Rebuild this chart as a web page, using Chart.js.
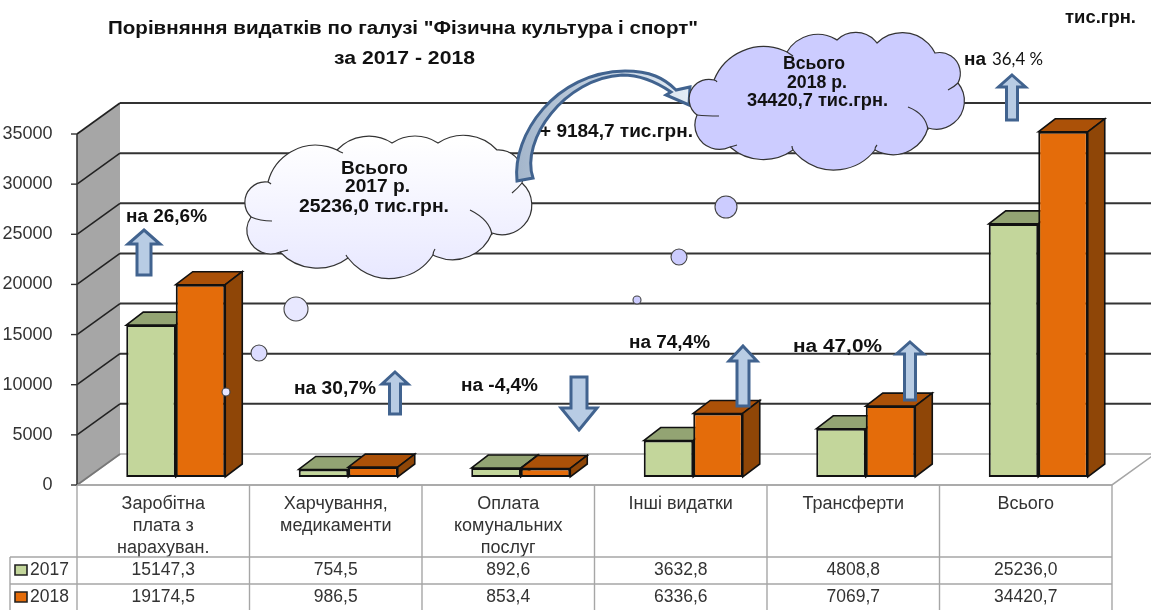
<!DOCTYPE html>
<html>
<head>
<meta charset="utf-8">
<style>
  html, body { margin: 0; padding: 0; background: #fff; }
  #box { width: 1151px; height: 610px; }
</style>
<script src="https://cdn.jsdelivr.net/npm/chart.js@4/dist/chart.umd.min.js"></script>
</head>
<body>
<div id="box"><canvas id="chart" width="1151" height="610"></canvas></div>
<script>
const categories = [
  ['Заробітна', 'плата з', 'нарахуван.'],
  ['Харчування,', 'медикаменти'],
  ['Оплата', 'комунальних', 'послуг'],
  'Інші видатки',
  'Трансферти',
  'Всього'
];
const values2017 = [15147.3, 754.5, 892.6, 3632.8, 4808.8, 25236.0];
const values2018 = [19174.5, 986.5, 853.4, 6336.6, 7069.7, 34420.7];
const seriesNames = ['2017', '2018'];
const yTicks = [0, 5000, 10000, 15000, 20000, 25000, 30000, 35000];

const FONT = '"Liberation Sans", Arial, sans-serif';
const INK = '#111';
const GREEN = ['#C3D69B', '#93A473', '#93A473'];
const ORANGE = ['#E46C0A', '#AB5108', '#8F4607'];
const faces = [GREEN, ORANGE];

// offsets of the fake 3d look
const barDx = 17, barDy = -13;   // bar depth
const frontDy = 8;               // front wall sits below the bar base
const backDx = 43, backDy = -31; // back wall from front wall

function poly(ctx, pts, fill, stroke, lw) {
  ctx.beginPath();
  pts.forEach((p, i) => i ? ctx.lineTo(p[0], p[1]) : ctx.moveTo(p[0], p[1]));
  ctx.closePath();
  if (fill) { ctx.fillStyle = fill; ctx.fill(); }
  if (stroke) { ctx.strokeStyle = stroke; ctx.lineWidth = lw || 1; ctx.stroke(); }
}

function line(ctx, x1, y1, x2, y2, color, lw) {
  ctx.beginPath();
  ctx.moveTo(x1, y1);
  ctx.lineTo(x2, y2);
  ctx.strokeStyle = color;
  ctx.lineWidth = lw;
  ctx.stroke();
}

function label(ctx, str, x, y, font, align, color) {
  ctx.font = font;
  ctx.textAlign = align || 'left';
  ctx.textBaseline = 'middle';
  ctx.fillStyle = color || '#111';
  ctx.fillText(str, x, y);
}

// the reference text is stretched sideways, so fit it to a left edge and a width
function wide(ctx, str, x, y, w, font) {
  ctx.save();
  ctx.font = font || '700 18px ' + FONT;
  ctx.textAlign = 'left';
  ctx.textBaseline = 'middle';
  ctx.fillStyle = '#111';
  ctx.translate(x, y);
  ctx.scale(w / ctx.measureText(str).width, 1);
  ctx.fillText(str, 0, 0);
  ctx.restore();
}

// walls, floor, grid and table, all hung on the y scale
const wallsPlugin = {
  id: 'walls',
  beforeDatasetsDraw(chart) {
    const ctx = chart.ctx;
    const y = chart.scales.y, x = chart.scales.x;
    const fx = x.left - 12.5;                  // front wall x
    const fr = x.right - 12.5;                 // front right edge
    const py = v => y.getPixelForValue(v) + frontDy;
    const bx = fx + backDx;
    ctx.save();

    poly(ctx, [[fx, py(0)], [fr, py(0)], [fr + backDx, py(0) + backDy], [bx, py(0) + backDy]], '#fff', '#A6A6A6', 1.6);
    poly(ctx, [[fx, py(35000)], [bx, py(35000) + backDy], [bx, py(0) + backDy], [fx, py(0)]], '#A6A6A6');

    yTicks.forEach(v => {
      const c = v === 0 ? '#A6A6A6' : '#333';
      if (v > 0) line(ctx, bx, py(v) + backDy, 1151, py(v) + backDy, c, 2);
      line(ctx, fx, py(v), bx, py(v) + backDy, v === 0 ? '#777' : '#222', 1.6);
      line(ctx, fx - 6, py(v), fx, py(v), '#333', 1.4);
    });
    line(ctx, fx, py(35000), fx, py(0), '#333', 1.6);

    // table under the floor
    const top = py(0), r1 = 557, r2 = 584, bottom = 610, gray = '#A6A6A6';
    const colW = x.width / categories.length;
    line(ctx, fx, top, fr, top, gray, 1.6);
    for (let i = 0; i <= categories.length; i++) line(ctx, fx + i * colW, top, fx + i * colW, bottom, gray, 1.4);
    line(ctx, 10, r1, fr, r1, gray, 1.4);
    line(ctx, 10, r2, fr, r2, gray, 1.4);
    line(ctx, 10, r1, 10, bottom, gray, 1.4);

    [values2017, values2018].forEach((vals, s) => {
      const ry = s ? 597 : 570;
      poly(ctx, [[15, ry - 5], [27, ry - 5], [27, ry + 5], [15, ry + 5]], faces[s][0], '#222', 1.6);
      label(ctx, seriesNames[s], 30, ry, '17.5px ' + FONT, 'left', '#333');
      vals.forEach((v, i) => {
        label(ctx, v.toFixed(1).replace('.', ','), fx + (i + .5) * colW, ry, '17.5px ' + FONT, 'center', '#333');
      });
    });

    // tops and sides of the bars
    chart.data.datasets.forEach((ds, s) => {
      chart.getDatasetMeta(s).data.forEach(b => {
        const l = b.x - b.width / 2, r = b.x + b.width / 2, t = b.y, base = b.base;
        poly(ctx, [[l, t], [l + barDx, t + barDy], [r + barDx, t + barDy], [r, t]], faces[s][1], INK, 1.6);
        poly(ctx, [[r, t], [r + barDx, t + barDy], [r + barDx, base + barDy], [r, base]], faces[s][2], INK, 1.6);
      });
    });
    ctx.restore();
  },

  afterDatasetsDraw(chart) {
    const ctx = chart.ctx;
    ctx.save();
    drawCallouts(ctx);
    ctx.restore();
  }
};

// cloud outline: [x, y, bulge] going clockwise
const cloud2017 = [[251,217,14],[268,182,18],[337,150,10],[392,143,7],[438,143,11],[497,150,11],[522,183,24],[492,233,14],[433,255,22],[348,258,13],[280,252,17]];
const cloud2018 = [[697,115,16],[714,80,17],[787,52,11],[837,40,9],[877,43,15],[935,53,12],[958,83,20],[928,128,14],[875,150,20],[793,150,11],[730,147,16]];
const tails2017 = [[251,217,260,221,272,221],[268,182,270,183,271,184],[337,150,340,152,343,153],[522,183,518,188,512,193],[470,210,490,220,492,235],[433,255,433,252,435,249],[348,258,347,257,346,255],[280,252,284,251,288,250]];
const tails2018 = [[697,115,706,116,719,116],[714,80,716,80,717,82],[787,52,790,54,793,56],[958,83,954,87,948,90],[908,107,926,114,928,130],[875,150,875,147,877,145],[793,150,792,148,792,146],[730,147,734,146,737,145]];

function cloudPath(ctx, pts) {
  ctx.beginPath();
  pts.forEach((p, i) => {
    const q = pts[(i + 1) % pts.length];
    const dx = q[0] - p[0], dy = q[1] - p[1], c = Math.hypot(dx, dy), s = p[2];
    const R = (c * c / 4 + s * s) / (2 * s);
    const mx = (p[0] + q[0]) / 2, my = (p[1] + q[1]) / 2;
    const cx = mx - dy / c * (R - s), cy = my + dx / c * (R - s);
    ctx.arc(cx, cy, R, Math.atan2(p[1] - cy, p[0] - cx), Math.atan2(q[1] - cy, q[0] - cx), false);
  });
  ctx.closePath();
}

function drawCloud(ctx, pts, tails, fill) {
  cloudPath(ctx, pts);
  ctx.fillStyle = fill;
  ctx.fill();
  ctx.strokeStyle = '#333';
  ctx.lineWidth = 1.2;
  ctx.stroke();
  tails.forEach(t => {
    ctx.beginPath();
    ctx.moveTo(t[0], t[1]);
    ctx.quadraticCurveTo(t[2], t[3], t[4], t[5]);
    ctx.stroke();
  });
}

function bubble(ctx, x, y, r, fill) {
  ctx.beginPath();
  ctx.arc(x, y, r, 0, Math.PI * 2);
  ctx.fillStyle = fill;
  ctx.fill();
  ctx.strokeStyle = '#444';
  ctx.lineWidth = 1.1;
  ctx.stroke();
}

function upArrow(ctx, tipX, tipY, wingY, halfWing, halfStem, endY) {
  poly(ctx, [[tipX, tipY], [tipX + halfWing, wingY], [tipX + halfStem, wingY], [tipX + halfStem, endY],
    [tipX - halfStem, endY], [tipX - halfStem, wingY], [tipX - halfWing, wingY]], '#B8CCE4', '#41638F', 3);
}

function curvedArrow(ctx) {
  const ag = ctx.createLinearGradient(520, 0, 690, 0);
  ag.addColorStop(0, '#A5B7CC');
  ag.addColorStop(1, '#E3ECF5');
  ctx.beginPath();
  ctx.moveTo(517, 181);
  ctx.bezierCurveTo(512, 135, 555, 72, 625, 71);
  ctx.bezierCurveTo(650, 71, 664, 78, 676, 90);
  ctx.lineTo(690, 87);
  ctx.lineTo(689, 105);
  ctx.lineTo(666, 95);
  ctx.lineTo(671, 92);
  ctx.bezierCurveTo(655, 81, 638, 75, 622, 75);
  ctx.bezierCurveTo(565, 78, 520, 140, 533, 178);
  ctx.closePath();
  ctx.fillStyle = ag;
  ctx.fill();
  ctx.strokeStyle = '#41638F';
  ctx.lineWidth = 3;
  ctx.lineJoin = 'miter';
  ctx.stroke();
}

function drawCallouts(ctx) {
  // bubbles rising to the clouds
  bubble(ctx, 226, 392, 4, '#E6E6FF');
  bubble(ctx, 259, 353, 8, '#DCDCFF');
  bubble(ctx, 296, 309, 12, '#E8E8FF');
  bubble(ctx, 637, 300, 4, '#CCCCFF');
  bubble(ctx, 679, 257, 8, '#CCCCFF');
  bubble(ctx, 726, 207, 11, '#CCCCFF');

  const g = ctx.createLinearGradient(0, 140, 0, 278);
  g.addColorStop(0, '#FFFFFF');
  g.addColorStop(1, '#E8E8FF');
  drawCloud(ctx, cloud2017, tails2017, g);

  // arrow from 2017 to 2018: over the first cloud, under the second
  curvedArrow(ctx);
  drawCloud(ctx, cloud2018, tails2018, '#CCCCFF');

  // straight arrows
  upArrow(ctx, 144, 230, 244, 16, 7, 275);
  upArrow(ctx, 395, 372, 384, 13, 5.5, 414);
  upArrow(ctx, 579, 430, 408, 18, 8, 377);
  upArrow(ctx, 743, 346, 361, 14, 6, 406);
  upArrow(ctx, 910, 342, 354, 13.5, 5.5, 400);
  upArrow(ctx, 1012, 75, 87, 13.5, 5.5, 120);

  // texts
  wide(ctx, 'Порівняння видатків по галузі "Фізична культура і спорт"', 108, 29, 590);
  wide(ctx, 'за 2017 - 2018', 334, 59, 141);
  wide(ctx, 'тис.грн.', 1065, 18, 71);

  wide(ctx, 'Всього', 341, 169, 67);
  wide(ctx, '2017 р.', 345, 187, 65);
  wide(ctx, '25236,0 тис.грн.', 299, 207, 150);
  wide(ctx, 'Всього', 783, 64, 62);
  wide(ctx, '2018 р.', 787, 83, 60);
  wide(ctx, '34420,7 тис.грн.', 747, 101, 141);

  wide(ctx, '+ 9184,7 тис.грн.', 540, 132, 153);
  wide(ctx, 'на 26,6%', 126, 217, 81);
  wide(ctx, 'на 30,7%', 294, 389, 82);
  wide(ctx, 'на -4,4%', 461, 386, 77);
  wide(ctx, 'на 74,4%', 629, 343, 81);
  wide(ctx, 'на 47,0%', 793, 347, 89);
  wide(ctx, 'на', 964, 60, 22);
  wide(ctx, '36,4 %', 992, 60, 51, '17px Lato, sans-serif');
}

new Chart(document.getElementById('chart'), {
  type: 'bar',
  data: {
    labels: categories,
    datasets: [
      { label: seriesNames[0], data: values2017, backgroundColor: GREEN[0], borderColor: INK, borderWidth: 2, borderSkipped: false },
      { label: seriesNames[1], data: values2018, backgroundColor: ORANGE[0], borderColor: INK, borderWidth: 2, borderSkipped: false }
    ]
  },
  options: {
    responsive: false,
    animation: false,
    events: [],
    layout: { padding: { top: 126, right: 26.5, left: 0, bottom: 0 } },
    categoryPercentage: 0.574,
    barPercentage: 1,
    plugins: {
      legend: { display: false },
      tooltip: { enabled: false },
      title: { display: false }
    },
    scales: {
      x: {
        grid: { display: false },
        border: { display: false },
        ticks: {
          autoSkip: false, maxRotation: 0, padding: 8, labelOffset: -12.5, color: '#333',
          font: { family: FONT, size: 18, lineHeight: 1.22 }
        },
        afterFit: s => { s.height = 133; }
      },
      y: {
        min: 0,
        max: 35000,
        afterBuildTicks: s => { s.ticks = yTicks.map(v => ({ value: v })); },
        grid: { display: false },
        border: { display: false },
        ticks: {
          padding: 29, labelOffset: frontDy, color: '#333',
          font: { family: FONT, size: 18 },
          callback: v => String(v)
        },
        afterFit: s => { s.width = 89.5; }
      }
    }
  },
  plugins: [wallsPlugin]
});
</script>
</body>
</html>
